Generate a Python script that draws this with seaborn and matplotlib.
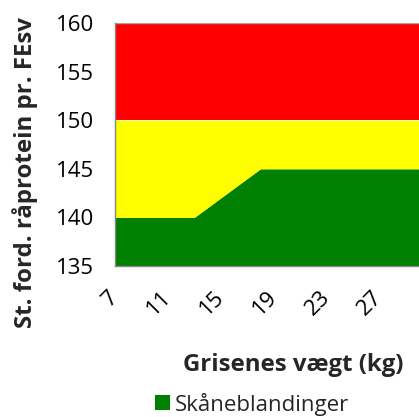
import numpy as np
import pandas as pd
import seaborn as sns
import matplotlib.pyplot as plt

# data
weight_kg = [7, 8, 9, 10, 11, 12, 13, 14, 15, 16, 17, 18, 19, 20,
             21, 22, 23, 24, 25, 26, 27, 28, 29, 30]
green_top = [140, 140, 140, 140, 140, 140, 140, 141, 142, 143, 144, 145, 145, 145,
             145, 145, 145, 145, 145, 145, 145, 145, 145, 145]
yellow_top = [150] * len(weight_kg)
red_top = [160] * len(weight_kg)
y_ticks = [135, 140, 145, 150, 155, 160]
x_tick_labels = [7, 11, 15, 19, 23, 27]

df = pd.DataFrame({"kg": weight_kg, "green": green_top,
                   "yellow": yellow_top, "red": red_top})

sns.set_style("white")
plt.rcParams["font.family"] = ["Open Sans", "DejaVu Sans"]

fig = plt.figure(figsize=(4.19, 4.17), dpi=100)
ax = fig.add_axes([115 / 419, 151 / 417, 304 / 419, 243 / 417])

ax.fill_between(df["kg"], 135, df["green"], color="#008000", lw=0,
                label="Skåneblandinger")
ax.fill_between(df["kg"], df["green"], df["yellow"], color="#FFFF00", lw=0)
ax.fill_between(df["kg"], df["yellow"], df["red"], color="#FF0000", lw=0)
sns.lineplot(x=[7, 30], y=[160, 160], ax=ax, color="#A0A0A0", lw=1,
             legend=False)

ax.set_xlim(7, 7 + 304 / 13.6)
ax.set_ylim(135, 160)
ax.set_yticks(y_ticks)
ax.set_xticks(weight_kg)
ax.set_xticklabels([str(k) if k in x_tick_labels else "" for k in weight_kg],
                   rotation=45, ha="right", va="center", rotation_mode="anchor")

for s in ["top", "right"]:
    ax.spines[s].set_visible(False)
for s in ["left", "bottom"]:
    ax.spines[s].set_color("#868686")
    ax.spines[s].set_linewidth(1)

ax.tick_params(axis="both", direction="out", length=5, width=1,
               color="#868686", labelsize=16, labelcolor="black")
ax.tick_params(axis="x", pad=15)
ax.tick_params(axis="y", pad=10)

ax.set_ylabel("St. ford. råprotein pr. FEsv", fontsize=17.3, fontweight="bold")
ax.yaxis.set_label_coords(-0.296, 0.383)
ax.set_xlabel("Grisenes vægt (kg)", fontsize=17.3, fontweight="bold")
ax.xaxis.set_label_coords((293 - 115) / 304, -(365 - 266) / 243)
ax.xaxis.label.set_va("center")
ax.yaxis.label.set_va("center")

fig.legend(loc="center", bbox_to_anchor=(252 / 419, 1 - 404 / 417),
           frameon=False, fontsize=16, handlelength=0.65, handleheight=0.65,
           handletextpad=0.2, borderpad=0, borderaxespad=0)

fig.savefig("out.png", dpi=100)
